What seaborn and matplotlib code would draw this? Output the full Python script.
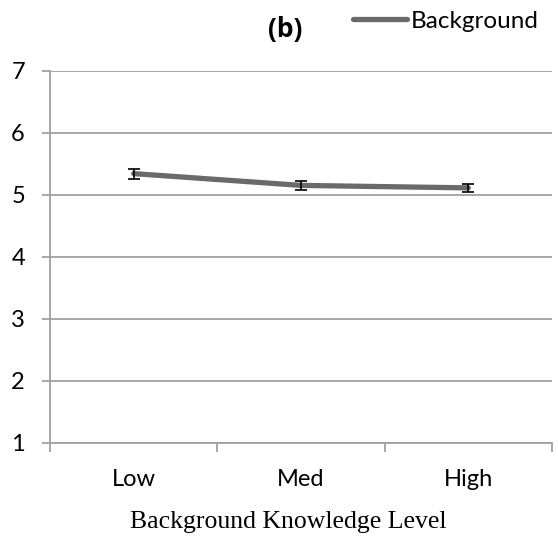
import matplotlib
matplotlib.use("Agg")
import matplotlib.pyplot as plt
import seaborn as sns
import pandas as pd

categories = ["Low", "Med", "High"]
values = [5.34, 5.15, 5.11]
errors = [0.08, 0.07, 0.07]
series_name = "Background"

sns.set_style("white")
plt.rcParams['font.family'] = ['Lato', 'DejaVu Sans']
plt.rcParams['text.color'] = 'black'
plt.rcParams['xtick.color'] = 'black'
plt.rcParams['ytick.color'] = 'black'

df = pd.DataFrame({"level": categories, "score": values, "err": errors})

fig = plt.figure(figsize=(5.58, 5.39), dpi=100)
W, H = 558, 539
ax = fig.add_axes([50 / W, 1 - 442.7 / H, (552 - 50) / W, (442.7 - 70.7) / H])

grid_c = "#a0a0a0"
sns.lineplot(data=df, x="level", y="score", ax=ax, color="#6a6a6a", linewidth=3.8,
             label=series_name, sort=False, solid_capstyle="round")
ax.errorbar(range(len(categories)), df["score"], yerr=df["err"], fmt="none",
            ecolor="black", elinewidth=1.2, capsize=4, capthick=1.2, zorder=5)

ax.set_xlim(-0.5, 2.5)
ax.set_ylim(1, 7)
ax.set_yticks(range(1, 8))
ax.yaxis.grid(True, color=grid_c, linewidth=1.3)
ax.set_axisbelow(True)
for s in ["top", "right"]:
    ax.spines[s].set_visible(False)
for s in ["left", "bottom"]:
    ax.spines[s].set_color(grid_c)
    ax.spines[s].set_linewidth(1.3)

ax.set_xticks([0, 1, 2])
ax.set_xticklabels(categories)
ax.set_xticks([-0.5, 0.5, 1.5, 2.5], minor=True)
ax.tick_params(axis="x", which="major", bottom=False, length=0, pad=19, labelsize=17, labelcolor="black")
ax.tick_params(axis="x", which="minor", bottom=True, length=6.5, color=grid_c, width=1.3, direction="out")
ax.tick_params(axis="y", left=True, length=6, color=grid_c, width=1.3, direction="out", pad=12,
               labelsize=17, labelcolor="black")
ax.set_xlabel("Background Knowledge Level", family=["Liberation Serif"], fontsize=18.5,
              labelpad=15, color="black", x=(288 - 50) / (552 - 50))
ax.set_ylabel("")

ax.text((285.5 - 50) / (552 - 50), 1 + (70.7 - 30) / (442.7 - 70.7), "(b)", transform=ax.transAxes,
        ha="center", va="center", fontweight="bold", fontsize=19, color="black",
        family=["Open Sans", "DejaVu Sans"])

leg = ax.legend(loc="center left", bbox_to_anchor=((352 - 50) / (552 - 50) - 0.018, 1 + (70.7 - 21) / (442.7 - 70.7)),
                frameon=False, fontsize=17.5, handlelength=2.25, handletextpad=0.12, borderaxespad=0)
for t in leg.get_texts():
    t.set_color("black")

fig.savefig("out.png", dpi=100)
